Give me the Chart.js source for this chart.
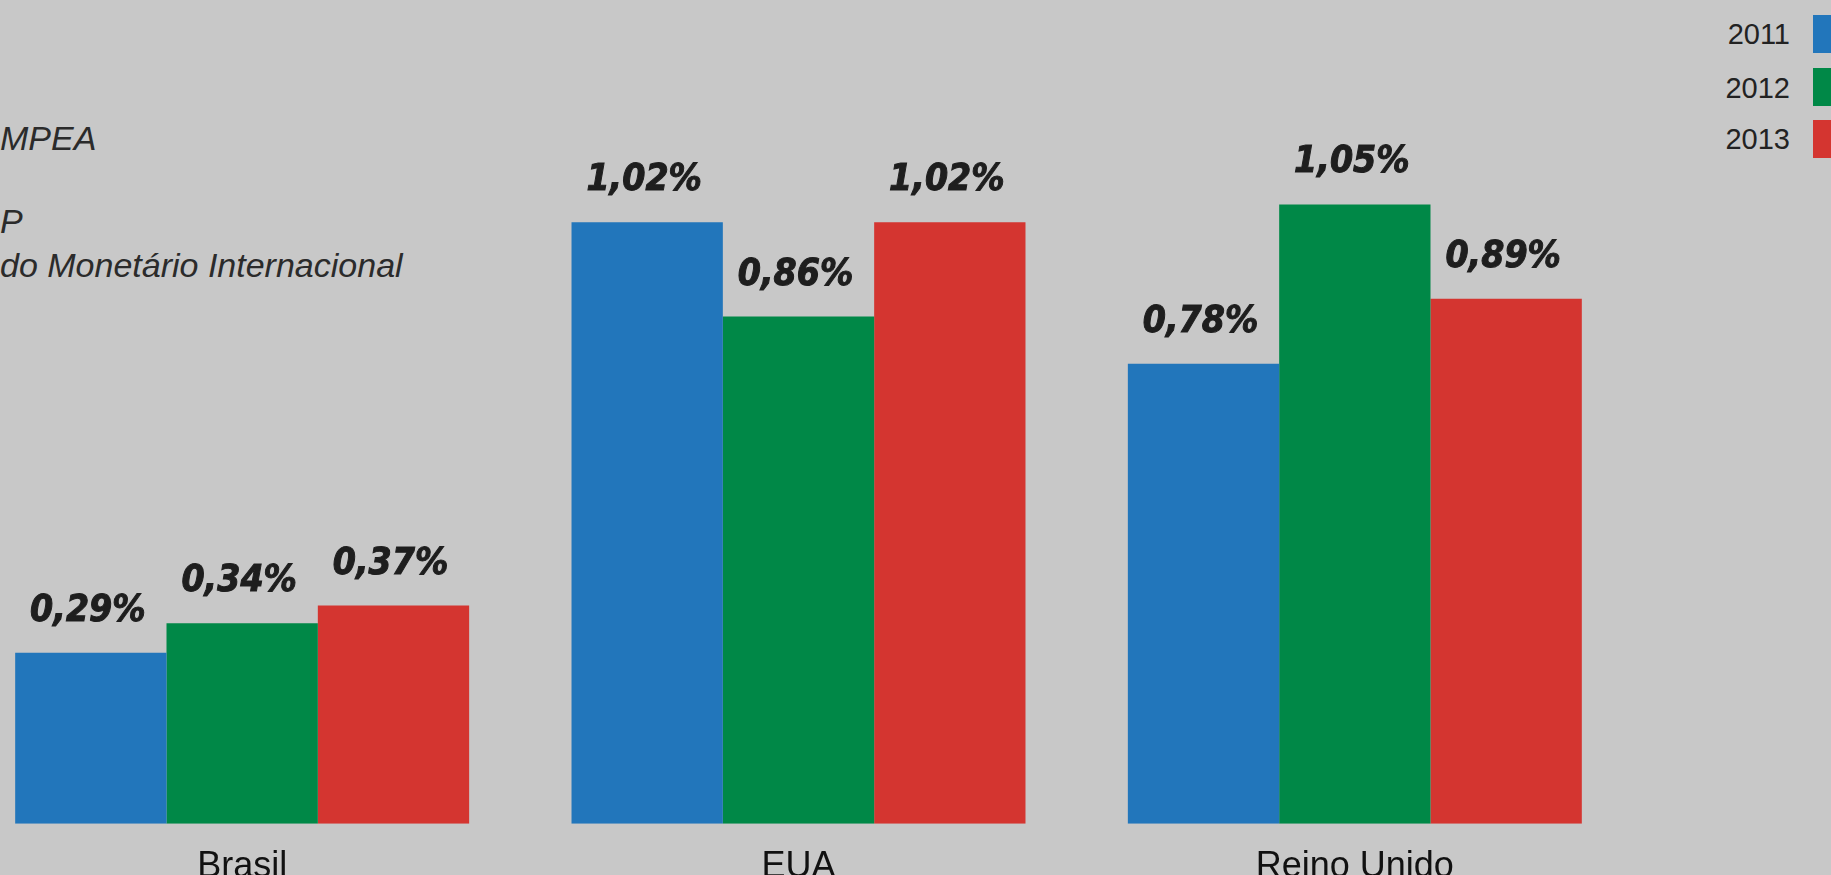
<!DOCTYPE html>
<html>
<head>
<meta charset="utf-8">
<script src="https://cdn.jsdelivr.net/npm/chart.js@4.4.1/dist/chart.umd.min.js"></script>
<style>
html,body{margin:0;padding:0;width:1831px;height:875px;overflow:hidden;background:#c8c8c8;}
#wrap{position:absolute;left:-36px;top:0;width:1669px;height:911px;}
.src{position:absolute;left:0;font-family:'Liberation Sans',Arial,sans-serif;font-style:italic;font-size:34px;line-height:34px;color:#2b2b2b;white-space:nowrap;}
.lg-t{position:absolute;right:41px;font-family:'Liberation Sans',Arial,sans-serif;font-size:29px;line-height:29px;color:#222;}
.lg-b{position:absolute;left:1813px;width:30px;height:38px;}
</style>
</head>
<body>
<div class="src" style="top:121px">MPEA</div>
<div class="src" style="top:204px">P</div>
<div class="src" style="top:248px">do Monetário Internacional</div>
<div id="legend"></div>
<div id="wrap"><canvas id="c"></canvas></div>
<script>
const categories = ["Brasil", "EUA", "Reino Unido"];
const seriesNames = ["2011", "2012", "2013"];
const values2011 = [0.29, 1.02, 0.78];
const values2012 = [0.34, 0.86, 1.05];
const values2013 = [0.37, 1.02, 0.89];
const seriesColors = ["#2276bb", "#008847", "#d43530"];

const allValues = [values2011, values2012, values2013];

// legend (text left of the colour box)
const legend = document.getElementById('legend');
const legendTops = [20, 74, 125];
const boxTops = [15, 68, 120];
seriesNames.forEach((name, i) => {
  const t = document.createElement('div');
  t.className = 'lg-t';
  t.style.top = legendTops[i] + 'px';
  t.textContent = name;
  legend.appendChild(t);
  const b = document.createElement('div');
  b.className = 'lg-b';
  b.style.top = boxTops[i] + 'px';
  b.style.background = seriesColors[i];
  legend.appendChild(b);
});

const fmt = v => v.toFixed(2).replace('.', ',') + '%';

const valueLabels = {
  id: 'valueLabels',
  afterDatasetsDraw(chart) {
    const ctx = chart.ctx;
    ctx.save();
    ctx.font = "italic bold 37px 'DejaVu Sans Condensed', 'DejaVu Sans', sans-serif";
    try { ctx.fontStretch = 'condensed'; } catch (e) {}
    ctx.fillStyle = '#1e1e1e';
    ctx.strokeStyle = '#1e1e1e';
    ctx.lineWidth = 1;
    ctx.textAlign = 'center';
    ctx.textBaseline = 'alphabetic';
    chart.data.datasets.forEach((ds, di) => {
      const meta = chart.getDatasetMeta(di);
      meta.data.forEach((bar, i) => {
        const s = fmt(ds.data[i]);
        ctx.fillText(s, bar.x - 3, bar.y - 32);
        ctx.strokeText(s, bar.x - 3, bar.y - 32);
      });
    });
    ctx.restore();
  }
};

new Chart(document.getElementById('c'), {
  type: 'bar',
  data: {
    labels: categories,
    datasets: seriesNames.map((n, i) => ({
      label: n,
      data: allValues[i],
      backgroundColor: seriesColors[i],
      borderWidth: 0,
      barPercentage: 1.0,
      categoryPercentage: 0.816
    }))
  },
  options: {
    responsive: true,
    maintainAspectRatio: false,
    animation: false,
    layout: { padding: { top: 57, left: 0, right: 0, bottom: 0 } },
    plugins: { legend: { display: false }, tooltip: { enabled: false }, title: { display: false } },
    scales: {
      x: {
        grid: { display: false, drawTicks: false },
        border: { display: false },
        ticks: {
          padding: 22,
          color: '#111',
          font: { family: "'Liberation Sans', Arial, sans-serif", size: 36 }
        }
      },
      y: {
        display: false,
        min: 0,
        max: 1.3
      }
    }
  },
  plugins: [valueLabels]
});
</script>
</body>
</html>
